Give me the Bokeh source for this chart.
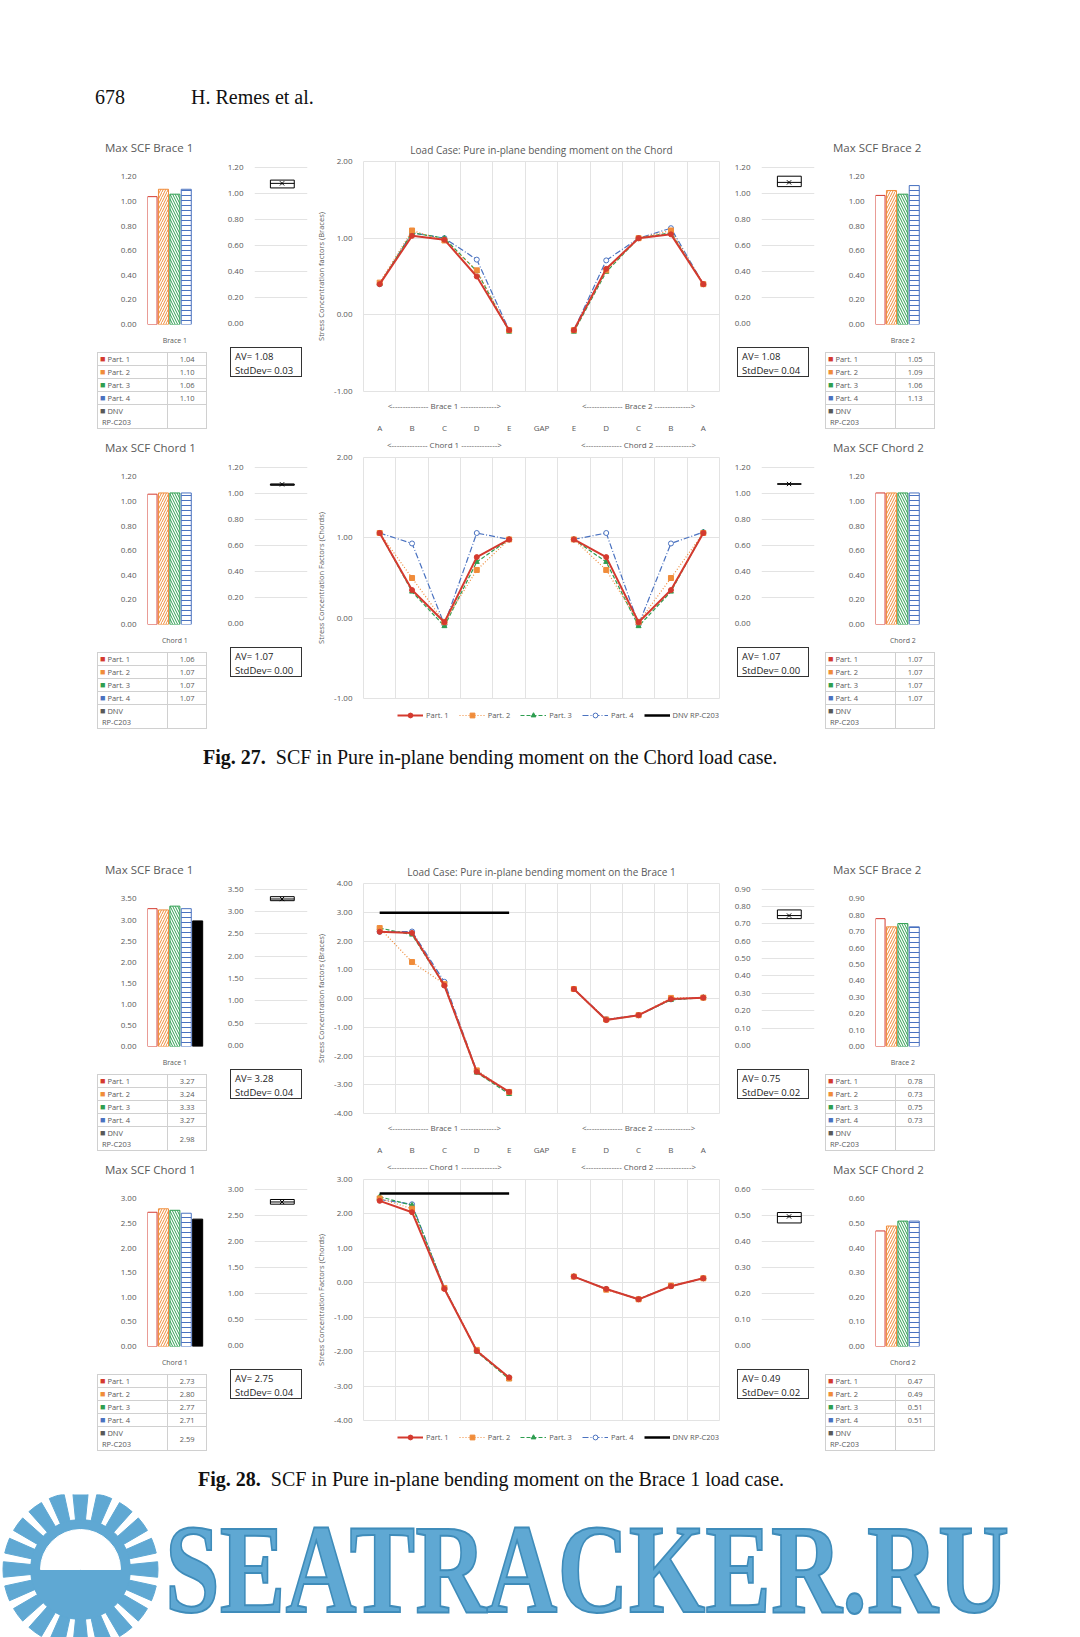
from bokeh.plotting import figure
from bokeh.layouts import row, column
from bokeh.models import (Div, Spacer, NumeralTickFormatter, FixedTicker, LinearAxis,
                          Legend, LegendItem, ColumnDataSource)
from bokeh.embed import file_html
from bokeh.resources import INLINE
import math

# ---------------- data ----------------
parts = ["Part. 1", "Part. 2", "Part. 3", "Part. 4"]
letters = ["A", "B", "C", "D", "E", "GAP", "E", "D", "C", "B", "A"]

# Fig 27 : bending moment on the chord
f27_brace1_max = [1.04, 1.10, 1.06, 1.10]
f27_brace2_max = [1.05, 1.09, 1.06, 1.13]
f27_chord1_max = [1.06, 1.07, 1.07, 1.07]
f27_chord2_max = [1.07, 1.07, 1.07, 1.07]
f27_stats = {"b1": ("1.08", "0.03"), "b2": ("1.08", "0.04"), "c1": ("1.07", "0.00"), "c2": ("1.07", "0.00")}

f27_brace_b1 = [[0.40, 1.03, 0.98, 0.50, -0.20], [0.42, 1.10, 0.97, 0.58, -0.20],
                [0.40, 1.07, 1.00, 0.57, -0.22], [0.40, 1.07, 1.00, 0.72, -0.20]]
f27_brace_b2 = [[-0.20, 0.60, 1.00, 1.05, 0.40], [-0.20, 0.58, 1.00, 1.10, 0.40],
                [-0.22, 0.56, 1.00, 1.07, 0.40], [-0.20, 0.71, 1.00, 1.13, 0.40]]
f27_chord_c1 = [[1.06, 0.35, -0.05, 0.76, 0.98], [1.06, 0.50, -0.05, 0.60, 0.98],
                [1.06, 0.33, -0.10, 0.70, 0.98], [1.06, 0.93, -0.08, 1.06, 0.98]]
f27_chord_c2 = [[0.98, 0.76, -0.05, 0.35, 1.06], [0.98, 0.60, -0.05, 0.50, 1.06],
                [0.98, 0.70, -0.10, 0.33, 1.07], [0.98, 1.06, -0.08, 0.93, 1.07]]

# Fig 28 : bending moment on brace 1
f28_brace1_max = [3.27, 3.24, 3.33, 3.27]
f28_brace1_dnv = 2.98
f28_brace2_max = [0.78, 0.73, 0.75, 0.73]
f28_chord1_max = [2.73, 2.80, 2.77, 2.71]
f28_chord1_dnv = 2.59
f28_chord2_max = [0.47, 0.49, 0.51, 0.51]
f28_stats = {"b1": ("3.28", "0.04"), "b2": ("0.75", "0.02"), "c1": ("2.75", "0.04"), "c2": ("0.49", "0.02")}

f28_brace_b1 = [[2.32, 2.28, 0.45, -2.55, -3.25], [2.45, 1.27, 0.50, -2.50, -3.25],
                [2.45, 2.22, 0.45, -2.58, -3.32], [2.32, 2.33, 0.58, -2.52, -3.28]]
f28_brace_b2 = [[0.33, -0.75, -0.58, -0.02, 0.03], [0.33, -0.73, -0.58, 0.02, 0.03],
                [0.33, -0.75, -0.58, -0.05, 0.03], [0.33, -0.72, -0.58, -0.03, 0.03]]
f28_chord_c1 = [[2.38, 2.05, -0.18, -1.98, -2.75], [2.45, 2.15, -0.15, -1.95, -2.78],
                [2.50, 2.25, -0.15, -2.00, -2.80], [2.42, 2.28, -0.15, -1.98, -2.75]]
f28_chord_c2 = [[0.18, -0.18, -0.48, -0.10, 0.13], [0.18, -0.20, -0.48, -0.08, 0.13],
                [0.18, -0.18, -0.48, -0.10, 0.13], [0.18, -0.18, -0.47, -0.10, 0.13]]

# ---------------- styles ----------------
FONT = "Open Sans"
GRAY = "#595959"
GRID = "#e3e3e3"
COLORS = ["#d43a2f", "#f08c3a", "#2e9e50", "#4a72c0"]
HATCH = [" ", "/", "\\", "-"]
DASH = ["solid", "1 2", "4 2", "6 2 1 2"]
MARKERS = ["circle", "square", "triangle", "circle"]
BLUE = "#5fa8d3"
W_BAR, W_BOX, W_LINE = 116, 95, 412


def style(p):
    for ax in p.axis:
        ax.major_label_text_font = FONT
        ax.major_label_text_font_size = "8px"
        ax.major_label_text_color = GRAY
        ax.axis_line_color = None
        ax.major_tick_line_color = None
        ax.minor_tick_line_color = None
    p.outline_line_color = None
    p.ygrid.grid_line_color = GRID
    p.xgrid.grid_line_color = None


def yticks(lo, hi, step):
    return [round(lo + i * step, 4) for i in range(int(round((hi - lo) / step)) + 1)]


def bar_panel(title, cat, vals, dnv, ymax, step):
    t = Div(text=title, width=W_BAR, height=22,
            styles={"font-family": FONT, "font-size": "11.5px", "color": GRAY, "padding-left": "8px"})
    p = figure(width=W_BAR, height=180, x_range=(-0.4, 4.6), y_range=(0, ymax * 1.01),
               output_backend="svg", toolbar_location=None, tools="",
               min_border_left=55, min_border_right=4, min_border_top=8, min_border_bottom=14)
    n = len(vals)
    src = ColumnDataSource(dict(x=list(range(n)), top=vals, lc=COLORS[:n], hp=HATCH[:n]))
    p.vbar(x="x", top="top", width=0.88, source=src, fill_color="white", line_color="lc",
           hatch_pattern="hp", hatch_color="lc", hatch_scale=5, hatch_weight=1)
    if dnv is not None:
        p.vbar(x=[n], top=[dnv], width=0.88, fill_color="black", line_color="black")
    p.yaxis.ticker = FixedTicker(ticks=yticks(0, ymax, step))
    p.yaxis.formatter = NumeralTickFormatter(format="0.00")
    p.xaxis.ticker = FixedTicker(ticks=[2])
    p.xaxis.major_label_overrides = {2: cat}
    style(p)
    p.ygrid.grid_line_color = None
    p.xaxis.major_label_text_font_size = "7px"
    cells = ""
    for i, v in enumerate(vals):
        cells += ('<tr><td><span style="color:%s;font-size:9px">&#9632;</span> %s</td>'
                  '<td style="text-align:center">%.2f</td></tr>' % (COLORS[i], parts[i], v))
    dv = "" if dnv is None else "%.2f" % dnv
    cells += ('<tr><td style="line-height:11px"><span style="font-size:9px">&#9632;</span> DNV<br>&nbsp;RP-C203</td>'
              '<td style="text-align:center">%s</td></tr>' % dv)
    tbl = Div(text='<table style="border-collapse:collapse;width:110px">%s</table>' % cells,
              width=W_BAR, height=88,
              styles={"font-family": FONT, "font-size": "7.5px", "color": GRAY, "overflow": "hidden"})
    tbl.stylesheets = ["td{border:1px solid #d0d0d0;padding:0 2px;height:13px;line-height:12px}"]
    return column(t, p, tbl)


def box_panel(vals, ymax, step, av, sd):
    p = figure(width=W_BOX, height=180, x_range=(0, 1), y_range=(0, ymax * 1.01),
               output_backend="svg", toolbar_location=None, tools="",
               min_border_left=36, min_border_right=6, min_border_top=8, min_border_bottom=14)
    lo, hi = min(vals), max(vals)
    mean = sum(vals) / len(vals)
    p.quad(left=[0.3], right=[0.75], bottom=[lo], top=[hi], fill_color="white", line_color="black")
    p.segment(x0=[0.3], x1=[0.75], y0=[mean], y1=[mean], line_color="black")
    p.scatter(x=[0.52], y=[mean], marker="x", size=6, line_color="black")
    p.yaxis.ticker = FixedTicker(ticks=yticks(0, ymax, step))
    p.yaxis.formatter = NumeralTickFormatter(format="0.00")
    p.xaxis.visible = False
    style(p)
    txt = Div(text="AV= %s<br>StdDev= %s" % (av, sd), width=72, height=30,
              styles={"font-family": FONT, "font-size": "9.5px", "color": "#222", "border": "1px solid #333",
                      "padding": "2px 4px", "margin-left": "12px", "margin-top": "10px", "line-height": "14px"})
    return column(Spacer(width=W_BOX, height=22), p, txt)


def series(b1, b2):
    return [b1[i] + [float("nan")] + b2[i] for i in range(4)]


def draw_series(p, xs, data):
    rs = {}
    for i in [3, 2, 1, 0]:
        lw = 2 if i == 0 else 1.2
        r1 = p.line(xs, data[i], line_color=COLORS[i], line_width=lw, line_dash=DASH[i])
        fc = "white" if i == 3 else COLORS[i]
        r2 = p.scatter(xs, data[i], marker=MARKERS[i], size=5, fill_color=fc, line_color=COLORS[i])
        rs[i] = [r1, r2]
    return rs


def line_panel(title, ylab, data, yr, step, dnv, top_row, h):
    p = figure(width=W_LINE, height=h, x_range=(-0.5, 10.5), y_range=yr,
               output_backend="svg", toolbar_location=None, tools="",
               min_border_left=50, min_border_right=6, min_border_top=8 if top_row else 2,
               min_border_bottom=4, title=title if top_row else None)
    xs = list(range(11))
    draw_series(p, xs, data)
    if dnv is not None:
        p.line([0, 4], [dnv, dnv], line_color="black", line_width=2.5)
    p.yaxis.ticker = FixedTicker(ticks=yticks(yr[0], yr[1], step))
    p.yaxis.formatter = NumeralTickFormatter(format="0.00")
    p.yaxis.axis_label = ylab
    p.yaxis.axis_label_text_font = FONT
    p.yaxis.axis_label_text_font_size = "7.5px"
    p.yaxis.axis_label_text_font_style = "normal"
    p.yaxis.axis_label_text_color = GRAY
    p.xgrid.ticker = FixedTicker(ticks=[i + 0.5 for i in range(10)])
    tag = "Brace" if top_row else "Chord"
    labs = {2: "<-------------- %s 1 -------------->" % tag, 8: "<-------------- %s 2 -------------->" % tag}
    if top_row:
        p.xaxis.ticker = FixedTicker(ticks=[2, 8])
        p.xaxis.major_label_overrides = labs
        ax = LinearAxis(ticker=FixedTicker(ticks=xs), major_label_overrides={i: letters[i] for i in xs})
        p.add_layout(ax, "below")
    else:
        p.xaxis.visible = False
        ax = LinearAxis(ticker=FixedTicker(ticks=[2, 8]), major_label_overrides=labs)
        p.add_layout(ax, "above")
    style(p)
    p.xgrid.grid_line_color = GRID
    p.outline_line_color = GRID
    for a in p.xaxis:
        a.major_label_standoff = 2
        a.major_label_text_font_size = "8px"
    if top_row:
        p.title.text_font = FONT
        p.title.text_font_size = "10px"
        p.title.text_font_style = "normal"
        p.title.text_color = GRAY
        p.title.align = "center"
    return p


def legend_fig():
    p = figure(width=W_LINE, height=24, x_range=(0, 1), y_range=(0, 1), output_backend="svg",
               toolbar_location=None, tools="", min_border=0)
    p.axis.visible = False
    p.grid.visible = False
    p.outline_line_color = None
    nan = [float("nan")]
    rs = draw_series(p, nan, [nan, nan, nan, nan])
    rd = p.line(nan, nan, line_color="black", line_width=2.5)
    items = [LegendItem(label=parts[i], renderers=rs[i]) for i in range(4)]
    items.append(LegendItem(label="DNV RP-C203", renderers=[rd]))
    lg = Legend(items=items, orientation="horizontal", label_text_font=FONT, label_text_font_size="7.5px",
                label_text_color=GRAY, border_line_color=None, background_fill_alpha=0,
                glyph_width=26, glyph_height=12, spacing=10, padding=0, margin=0, label_standoff=3,
                location=(34, 5))
    p.add_layout(lg, "center")
    return p


def block(b1m, b1d, b2m, c1m, c1d, c2m, stats, ranges, lines, title, h1, h2):
    (rb1, sb1), (rb2, sb2), (rc1, sc1), (rc2, sc2), (lb, lbs), (lc, lcs) = ranges
    top = row(Spacer(width=92),
              bar_panel("Max SCF Brace 1", "Brace 1", b1m, b1d, rb1, sb1),
              box_panel(b1m, rb1, sb1, *stats["b1"]),
              line_panel(title, "Stress Concentration factors (Braces)", lines[0], lb, lbs, b1d, True, h1),
              box_panel(b2m, rb2, sb2, *stats["b2"]),
              bar_panel("Max SCF Brace 2", "Brace 2", b2m, None, rb2, sb2), height=h1)
    mid = column(line_panel(None, "Stress Concentration Factors (Chords)", lines[1], lc, lcs, c1d, False, h2 - 24),
                 legend_fig())
    bot = row(Spacer(width=92),
              bar_panel("Max SCF Chord 1", "Chord 1", c1m, c1d, rc1, sc1),
              box_panel(c1m, rc1, sc1, *stats["c1"]),
              mid,
              box_panel(c2m, rc2, sc2, *stats["c2"]),
              bar_panel("Max SCF Chord 2", "Chord 2", c2m, None, rc2, sc2), height=h2)
    return column(top, bot)


b27 = block(f27_brace1_max, None, f27_brace2_max, f27_chord1_max, None, f27_chord2_max, f27_stats,
            [(1.2, 0.2), (1.2, 0.2), (1.2, 0.2), (1.2, 0.2), ((-1, 2), 1), ((-1, 2), 1)],
            [series(f27_brace_b1, f27_brace_b2), series(f27_chord_c1, f27_chord_c2)],
            "Load Case: Pure in-plane bending moment on the Chord", 300, 291)
b28 = block(f28_brace1_max, f28_brace1_dnv, f28_brace2_max, f28_chord1_max, f28_chord1_dnv, f28_chord2_max,
            f28_stats,
            [(3.5, 0.5), (0.9, 0.1), (3.0, 0.5), (0.6, 0.1), ((-4, 4), 1), ((-4, 3), 1)],
            [series(f28_brace_b1, f28_brace_b2), series(f28_chord_c1, f28_chord_c2)],
            "Load Case: Pure in-plane bending moment on the Brace 1", 300, 291)

SERIF = {"font-family": "Liberation Serif", "color": "#111"}
header = Div(text='<span style="margin-left:90px">678</span><span style="margin-left:66px">H. Remes et al.</span>',
             width=1060, height=125, styles=dict(SERIF, **{"font-size": "20px", "padding-top": "78px"}))
cap27 = Div(text="<b>Fig. 27.</b>&nbsp; SCF in Pure in-plane bending moment on the Chord load case.",
            width=1060, height=121, styles=dict(SERIF, **{"font-size": "20px", "padding-top": "12px",
                                                          "padding-left": "198px"}))
cap28 = Div(text="<b>Fig. 28.</b>&nbsp; SCF in Pure in-plane bending moment on the Brace 1 load case.",
            width=1060, height=36, styles=dict(SERIF, **{"font-size": "20px", "padding-top": "12px",
                                                         "padding-left": "193px"}))

# watermark
sun = figure(width=160, height=150, x_range=(-1.6, 1.6), y_range=(-1.55, 1.55), output_backend="svg",
             toolbar_location=None, tools="", min_border=0)
sun.axis.visible = False
sun.grid.visible = False
sun.outline_line_color = None
ray_angles = [i * math.pi / 10 for i in range(20)]
sun.wedge(x=[0] * 20, y=[0] * 20, radius=1.55, start_angle=[a - 0.1 for a in ray_angles],
          end_angle=[a + 0.1 for a in ray_angles], color=BLUE)
sun.wedge(x=[0], y=[0], radius=1.0, start_angle=0, end_angle=2 * math.pi, color=BLUE)
sun.wedge(x=[0], y=[0], radius=0.8, start_angle=0.0, end_angle=math.pi, color="white")
mark = Div(text="SEATRACKER.RU", width=880, height=150,
           styles={"font-family": "Liberation Serif", "font-weight": "bold", "font-size": "128px",
                   "color": BLUE, "line-height": "140px", "white-space": "nowrap",
                   "transform": "scaleX(0.77)", "transform-origin": "left center",
                   "-webkit-text-stroke": "2px #3f8cba"})
water = row(sun, mark)

page = column(header, b27, cap27, b28, cap28, water)
open("out.html", "w").write(file_html(page, INLINE))
